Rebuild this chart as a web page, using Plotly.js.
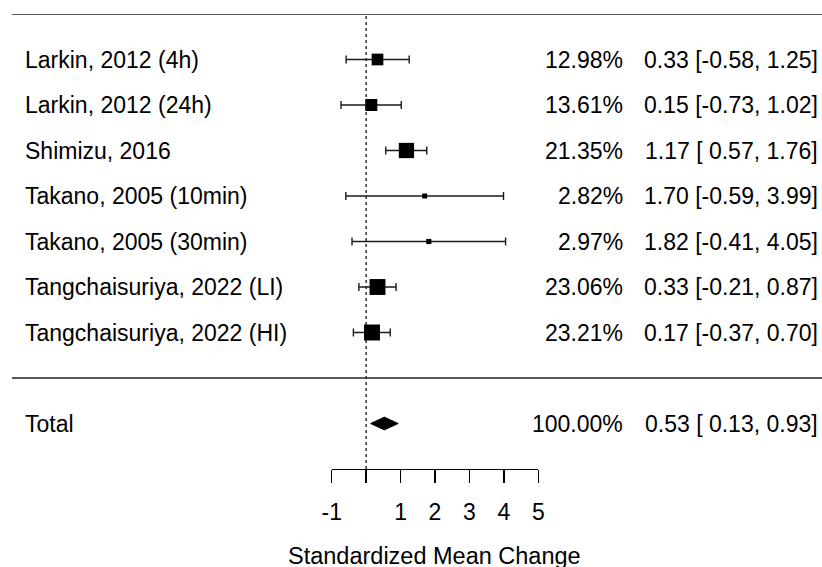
<!DOCTYPE html>
<html>
<head>
<meta charset="utf-8">
<script src="https://cdn.plot.ly/plotly-3.0.1.min.js"></script>
<style>html,body{margin:0;padding:0;background:#fff;}#chart{width:822px;height:567px;}</style>
</head>
<body>
<div id="chart"></div>
<script>
// ---- data ----
const studies = ["Larkin, 2012 (4h)", "Larkin, 2012 (24h)", "Shimizu, 2016",
  "Takano, 2005 (10min)", "Takano, 2005 (30min)",
  "Tangchaisuriya, 2022 (LI)", "Tangchaisuriya, 2022 (HI)"];
const estimates = [0.33, 0.15, 1.17, 1.70, 1.82, 0.33, 0.17];
const lower = [-0.58, -0.73, 0.57, -0.59, -0.41, -0.21, -0.37];
const upper = [1.25, 1.02, 1.76, 3.99, 4.05, 0.87, 0.70];
const weights = [12.98, 13.61, 21.35, 2.82, 2.97, 23.06, 23.21];
const totalLabel = "Total";
const totalEst = 0.53, totalLower = 0.13, totalUpper = 0.93, totalWeight = 100.00;
const tickValues = [-1, 0, 1, 2, 3, 4, 5];
const tickLabels = ["-1", "", "1", "2", "3", "4", "5"];
const xTitle = "Standardized Mean Change";

// ---- layout helpers ----
const W = 822, H = 567;
const FONT = "Liberation Sans, Arial, sans-serif";
const FS = 23;
const n = studies.length;
const rows = studies.map((s, i) => n - i);      // 7 .. 1
const totalRow = -1;
const px = v => v / W;

function fmt(v) { return v.toFixed(2); }
function padCol(arr) {
  const s = arr.map(fmt);
  const w = Math.max(...s.map(t => t.length));
  return s.map(t => t.padStart(w, " "));
}
const allLo = padCol(lower.concat([totalLower]));
const allHi = padCol(upper.concat([totalUpper]));
const allEst = padCol(estimates.concat([totalEst]));
const ciText = allEst.map((e, i) => e + " [" + allLo[i] + ", " + allHi[i] + "]");
const wText = weights.concat([totalWeight]).map(w => w.toFixed(2) + "%");

const sizes = weights.map(w => 3.5 * Math.sqrt(w) - 0.9);

const traces = [
  {
    type: "scatter", mode: "markers",
    x: estimates, y: rows,
    marker: { symbol: "square", size: sizes, color: "#000", opacity: 1, line: { width: 0 } },
    error_x: {
      type: "data", symmetric: false,
      array: upper.map((u, i) => u - estimates[i]),
      arrayminus: lower.map((l, i) => estimates[i] - l),
      color: "#1a1a1a", thickness: 1.4, width: 4
    },
    cliponaxis: false, hoverinfo: "skip", showlegend: false
  },
  {
    type: "scatter", mode: "lines",
    x: [totalLower, totalEst, totalUpper, totalEst, totalLower],
    y: [totalRow, totalRow + 0.14, totalRow, totalRow - 0.14, totalRow],
    fill: "toself", fillcolor: "#000",
    line: { color: "#000", width: 1 },
    cliponaxis: false, hoverinfo: "skip", showlegend: false
  }
];

const annotations = [];
const labelRows = rows.concat([totalRow]);
const labelTexts = studies.concat([totalLabel]);
labelRows.forEach((r, i) => {
  annotations.push({ xref: "paper", yref: "y", x: px(23), y: r, xanchor: "left", yanchor: "middle",
    text: labelTexts[i], showarrow: false, font: { family: FONT, size: FS, color: "#000" } });
  annotations.push({ xref: "paper", yref: "y", x: px(625), y: r, xanchor: "right", yanchor: "middle",
    text: wText[i], showarrow: false, font: { family: FONT, size: FS, color: "#000" } });
  annotations.push({ xref: "paper", yref: "y", x: px(820), y: r, xanchor: "right", yanchor: "middle",
    text: ciText[i].replace(/ /g, "\u00a0"), showarrow: false, font: { family: FONT, size: FS, color: "#000" } });
});
annotations.push({ xref: "paper", yref: "paper", x: px(434), y: -87 / 455, xanchor: "center", yanchor: "middle",
  text: xTitle, showarrow: false, font: { family: FONT, size: 23.5, color: "#000" } });

const layout = {
  width: W, height: H,
  margin: { l: 0, r: 0, t: 14, b: 98, pad: 0 },
  paper_bgcolor: "#fff", plot_bgcolor: "rgba(0,0,0,0)",
  font: { family: FONT, size: FS, color: "#000" },
  xaxis: {
    domain: [px(331.7), px(538.3)], range: [-1, 5],
    showgrid: false, zeroline: false,
    showline: true, linecolor: "#000", linewidth: 1.3,
    ticks: "outside", ticklen: 13, tickwidth: 1.3, tickcolor: "#000",
    tickmode: "array", tickvals: tickValues, ticktext: tickLabels,
    tickfont: { family: FONT, size: FS, color: "#000" },
    ticklabelstandoff: 9,
    fixedrange: true
  },
  yaxis: { range: [-2, 8], visible: false, fixedrange: true },
  shapes: [
    { type: "line", xref: "paper", yref: "y", x0: px(12), x1: 1, y0: 8, y1: 8, line: { color: "#222", width: 1.6 } },
    { type: "line", xref: "paper", yref: "y", x0: px(12), x1: 1, y0: 0, y1: 0, line: { color: "#222", width: 1.6 } },
    { type: "line", xref: "x", yref: "y", x0: 0, x1: 0, y0: -2, y1: 7.97, line: { color: "#222", width: 1.4, dash: "dot" }, layer: "below" }
  ],
  annotations: annotations,
  showlegend: false
};

Plotly.newPlot("chart", traces, layout, { staticPlot: true, displayModeBar: false });
</script>
</body>
</html>
